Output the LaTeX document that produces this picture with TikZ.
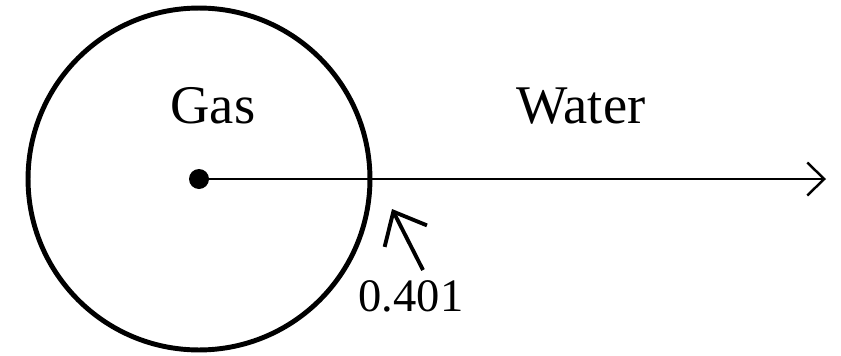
\documentclass[tikz,border=0pt]{standalone}
\usepackage{fontspec}
\setmainfont{Liberation Serif}
\usetikzlibrary{arrows.meta}

\begin{document}
\begin{tikzpicture}[x=0.02cm, y=-0.02cm, >={Straight Barb[length=0.34cm, width=0.66cm]},
  font=\fontsize{26.5}{30}\selectfont]

\useasboundingbox (0,0) rectangle (841,355);

% Gas bubble
\node[circle, draw, line width=2.8pt, minimum size=6.84cm, inner sep=0pt] (bubble) at (199,179) {};
\fill (bubble.center) circle (10);

% Labels
\node[anchor=base, font=\fontsize{31}{34}\selectfont] (gas) at (213,123) {Gas};
\node[anchor=base, font=\fontsize{31}{34}\selectfont] (water) at (581,123) {Water};
\node[anchor=base] (val) at (411,311) {0.401};

% Radial axis
\coordinate (axisend) at (826,179);
\draw[->, line width=1.4pt] (bubble.center) -- (axisend);

% Pointer to the interface
\coordinate (tail) at (423,270);
\coordinate (tip) at (392,209);
\draw[-{Straight Barb[length=0.55cm, width=0.95cm]}, line width=2.2pt] (tail) -- (tip);

\end{tikzpicture}
\end{document}
